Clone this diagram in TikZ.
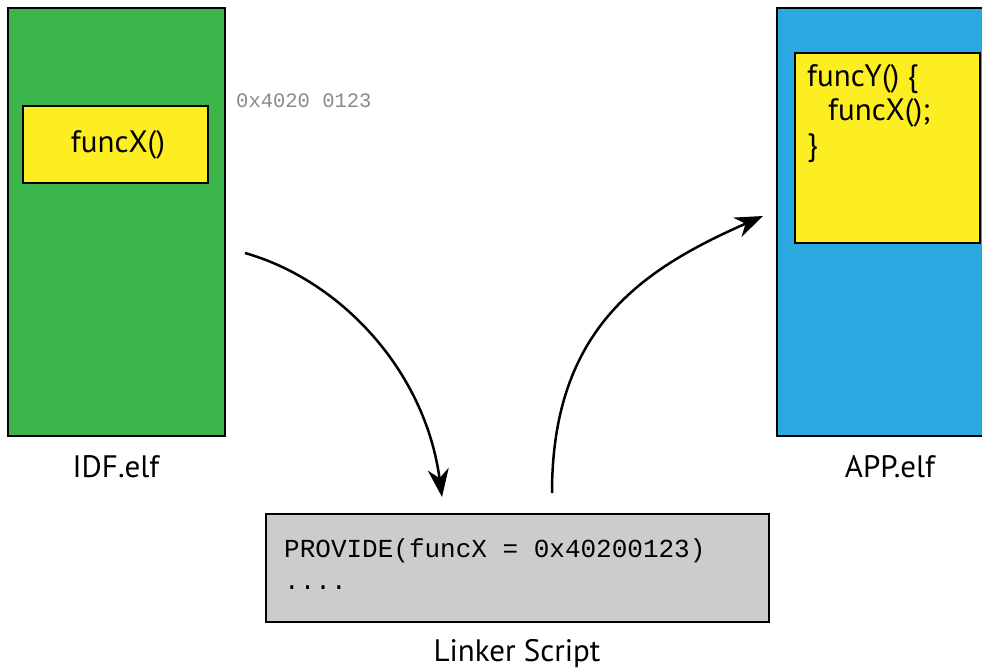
\documentclass[tikz,border=0pt]{standalone}
\usepackage{fontspec}
\setmainfont{PT Sans}
\newfontfamily\codefont{Liberation Mono}
\usetikzlibrary{arrows.meta}
\definecolor{idfgreen}{HTML}{3BB54A}
\definecolor{appblue}{HTML}{29A9E0}
\definecolor{fyellow}{HTML}{FDEE21}
\definecolor{lsgray}{HTML}{CCCCCC}
\definecolor{addrgray}{HTML}{8A8A8A}
\tikzset{
  blockbox/.style={draw=black, line width=2.5pt, inner sep=0pt, outer sep=0pt},
  lbl/.style={font=\fontsize{31}{35}\selectfont, inner sep=0pt},
  flow/.style={line width=2.5pt, -{Stealth[length=28pt,width=21pt,inset=9pt]}},
}
\begin{document}
\begin{tikzpicture}[x=1pt,y=-1pt]
\clip (0,0) rectangle (982,670);
\fill[white] (0,0) rectangle (982,670);
% IDF.elf
\node[blockbox, fill=idfgreen, minimum width=217pt, minimum height=428pt] (idf) at (116.5,222) {};
\node[blockbox, fill=fyellow, minimum width=185pt, minimum height=77pt] (fx) at (115.5,144.5) {};
\node[lbl] (fxt) at (118,145) {funcX()};
\node[lbl] (idflbl) at (116,467) {IDF.elf};
\node[anchor=west, inner sep=0pt, text=addrgray, font=\codefont\fontsize{20.5}{24}\selectfont] (addr) at (236,101) {0x4020 0123};
% APP.elf
\node[blockbox, fill=appblue, minimum width=220pt, minimum height=428pt] (app) at (887,222) {};
\node[blockbox, fill=fyellow, minimum width=185pt, minimum height=190pt] (fy) at (887.5,148) {};
\node[lbl, anchor=north west, align=left, font=\fontsize{31}{34.5}\selectfont] (fyt) at (807,64) {funcY() \{\\\hspace*{21pt}funcX();\\\}};
\node[lbl] (applbl) at (890,467) {APP.elf};
% Linker script
\node[blockbox, fill=lsgray, minimum width=503pt, minimum height=108pt] (ls) at (517.5,568) {};
\node[anchor=west, inner sep=0pt, align=left, font=\codefont\fontsize{26}{32}\selectfont] (lst) at (284,564) {PROVIDE(funcX = 0x40200123)\\....};
\node[lbl] (lslbl) at (517,654) {Linker Script};
% arrows
\coordinate (a1s) at (245,253);
\coordinate (a1e) at (442,497);
\coordinate (a2s) at (552,493);
\coordinate (a2e) at (763,216);
\draw[flow] (a1s) .. controls (340,280) and (425,370) .. (a1e);
\draw[flow] (a2s) .. controls (552,330) and (640,270) .. (a2e);
\end{tikzpicture}
\end{document}
